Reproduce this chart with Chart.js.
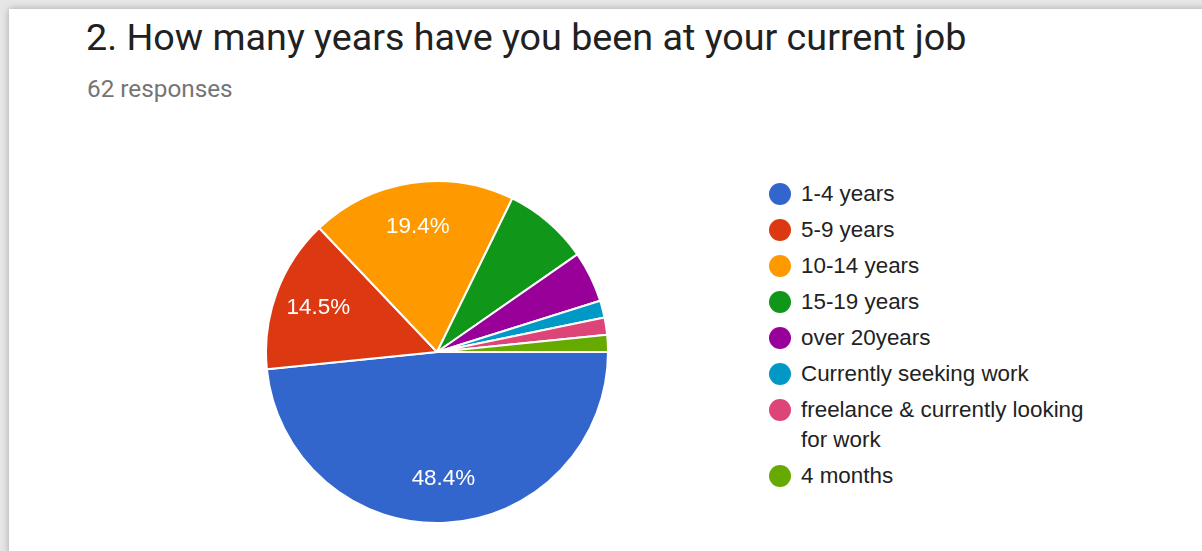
<!DOCTYPE html>
<html>
<head>
<meta charset="utf-8">
<script src="https://cdn.jsdelivr.net/npm/chart.js@4"></script>
<style>
  html, body { margin: 0; padding: 0; }
  body { width: 1202px; height: 551px; background: #e6e6e6; overflow: hidden; position: relative; }
  .card { position: absolute; left: 9px; top: 9px; width: 1260px; height: 620px; background: #fff;
          box-shadow: 0 0 7px rgba(0,0,0,0.28); }
  #title { position: absolute; left: 86px; top: 15px; margin: 0; font-family: Roboto, sans-serif;
           font-weight: 400; font-size: 37.7px; color: #212121; white-space: nowrap; }
  #sub { position: absolute; left: 87px; top: 74px; font-family: Roboto, sans-serif; font-size: 24.3px; color: #757575; }
  #wrap { position: absolute; left: 265px; top: 180px; width: 344px; height: 344px; }
  #legend { position: absolute; left: 769px; top: 179px; font-family: "Liberation Sans", Arial, sans-serif;
            font-size: 22.4px; color: #222; }
  .item { position: relative; padding-left: 32px; line-height: 30px; margin-bottom: 6px; width: 292px; }
  .dot { position: absolute; left: 0; top: 4px; width: 22px; height: 22px; border-radius: 50%; }
</style>
</head>
<body>
<div class="card"></div>
<h1 id="title">2. How many years have you been at your current job</h1>
<div id="sub">62 responses</div>
<div id="wrap"><canvas id="pie"></canvas></div>
<div id="legend"></div>
<script>
const categories = ['1-4 years', '5-9 years', '10-14 years', '15-19 years', 'over 20years',
    'Currently seeking work', 'freelance & currently looking for work', '4 months'];
const responses = [30, 9, 12, 5, 3, 1, 1, 1];
const colors = ['#3366cc', '#dc3912', '#ff9900', '#109618', '#990099', '#0099c6', '#dd4477', '#66aa00'];

// legend, built from the same arrays
const legend = document.getElementById('legend');
categories.forEach(function (name, i) {
    const item = document.createElement('div');
    item.className = 'item';
    const dot = document.createElement('span');
    dot.className = 'dot';
    dot.style.background = colors[i];
    item.appendChild(dot);
    item.appendChild(document.createTextNode(name));
    legend.appendChild(item);
});

// percentage labels inside the bigger slices
const sliceLabels = {
    id: 'sliceLabels',
    afterDatasetsDraw(chart) {
        const ctx = chart.ctx;
        const total = responses.reduce((a, b) => a + b, 0);
        const meta = chart.getDatasetMeta(0);
        ctx.save();
        ctx.font = '22.4px "Liberation Sans", Arial, sans-serif';
        ctx.fillStyle = '#ffffff';
        ctx.textAlign = 'center';
        ctx.textBaseline = 'middle';
        meta.data.forEach(function (arc, i) {
            const pct = responses[i] / total * 100;
            if (pct < 10) return;
            const p = arc.getProps(['x', 'y', 'startAngle', 'endAngle', 'outerRadius']);
            const mid = (p.startAngle + p.endAngle) / 2;
            const r = p.outerRadius * 0.74;
            ctx.fillText(pct.toFixed(1) + '%', p.x + Math.cos(mid) * r, p.y + Math.sin(mid) * r);
        });
        ctx.restore();
    }
};

var ctx = document.getElementById('pie').getContext('2d');
var chart = new Chart(ctx, {
    type: 'pie',
    data: {
        labels: categories,
        datasets: [{
            data: responses,
            backgroundColor: colors,
            borderColor: '#ffffff',
            borderWidth: 2,
            hoverOffset: 0
        }]
    },
    options: {
        responsive: true,
        maintainAspectRatio: false,
        animation: false,
        rotation: 90,
        plugins: {
            legend: { display: false },
            tooltip: { enabled: false }
        }
    },
    plugins: [sliceLabels]
});
</script>
</body>
</html>
